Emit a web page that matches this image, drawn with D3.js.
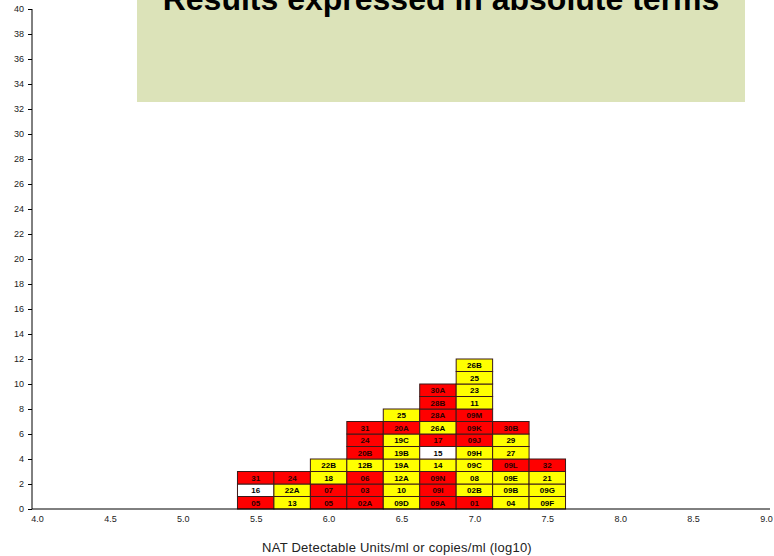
<!DOCTYPE html>
<html><head><meta charset="utf-8">
<script src="https://cdn.jsdelivr.net/npm/d3@7"></script>
<style>body{margin:0;background:#fff}svg{display:block}text{font-family:"Liberation Sans",Arial,sans-serif}</style>
</head><body><svg id="c" width="774" height="556"></svg>
<script>
// Bin centres (log10 units) and the lab codes stacked in each bin, bottom to top
const bins = [5.5, 5.75, 6.0, 6.25, 6.5, 6.75, 7.0, 7.25, 7.5];
const labels = [
  ["05","16","31"],
  ["13","22A","24"],
  ["05","07","18","22B"],
  ["02A","03","06","12B","20B","24","31"],
  ["09D","10","12A","19A","19B","19C","20A","25"],
  ["09A","09I","09N","14","15","17","26A","28A","28B","30A"],
  ["01","02B","08","09C","09H","09J","09K","09M","11","23","25","26B"],
  ["04","09B","09E","09L","27","29","30B"],
  ["09F","09G","21","32"]
];
// r = red, y = yellow, w = white
const kinds = [
  ["r","w","r"],
  ["y","y","r"],
  ["r","r","y","y"],
  ["r","r","r","y","r","r","r"],
  ["y","y","y","y","y","y","r","y"],
  ["r","r","r","y","w","r","y","r","r","r"],
  ["r","y","y","y","y","r","r","r","y","y","y","y"],
  ["y","y","y","r","y","y","r"],
  ["y","y","y","r"]
];
const xTicks = [4.0,4.5,5.0,5.5,6.0,6.5,7.0,7.5,8.0,8.5,9.0];
const yTicks = d3.range(0, 41, 2);
const binWidth = 0.25;
const title = "Results expressed in absolute terms";
const xTitle = "NAT Detectable Units/ml or copies/ml (log10)";

const colour = {r:"#ff0000", y:"#ffff00", w:"#ffffff"};
const svg = d3.select("#c");
const x = d3.scaleLinear().domain([4, 9]).range([37, 766]);
const y = d3.scaleLinear().domain([0, 40]).range([509, 9]);

// title box
svg.append("rect").attr("x",137).attr("y",0).attr("width",608).attr("height",102).attr("fill","#dce3b9");
svg.append("text").attr("x",441).attr("y",10).attr("text-anchor","middle")
  .attr("font-size",32).attr("font-weight","bold").attr("fill","#000").text(title);

// cells
const cells = [];
bins.forEach((b,i)=>labels[i].forEach((l,j)=>cells.push({b, j, l, k:kinds[i][j]})));
const g = svg.append("g");
const cg = g.selectAll("g.cell").data(cells).enter().append("g");
cg.append("rect")
  .attr("x", d=>x(d.b-binWidth/2)).attr("width", d=>x(d.b+binWidth/2)-x(d.b-binWidth/2))
  .attr("y", d=>y(d.j+1)).attr("height", d=>y(d.j)-y(d.j+1))
  .attr("fill", d=>colour[d.k]).attr("stroke","#3a1a1a").attr("stroke-width",1);
cg.append("text")
  .attr("x", d=>x(d.b)).attr("y", d=>(y(d.j)+y(d.j+1))/2+3)
  .attr("text-anchor","middle").attr("font-size",8).attr("font-weight","bold")
  .attr("fill", d=>d.k==="r"?"#2a0000":"#000").text(d=>d.l);

// y axis
const ya = svg.append("g").attr("transform","translate(32,0)")
  .call(d3.axisLeft(y).tickValues(yTicks).tickSize(4).tickPadding(4).tickFormat(d3.format("d")));
ya.select(".domain").attr("stroke","#000").attr("d","M0,9V509");
ya.selectAll(".tick line").attr("stroke","#000");
ya.selectAll(".tick text").attr("font-size",9).attr("fill","#222").attr("font-family","Liberation Sans, Arial, sans-serif");

// x axis
const xa = svg.append("g").attr("transform","translate(0,509)")
  .call(d3.axisBottom(x).tickValues(xTicks).tickSize(0).tickPadding(7).tickFormat(d3.format(".1f")));
xa.select(".domain").attr("stroke","#000").attr("d","M32,0H770");
xa.selectAll(".tick text").attr("font-size",9).attr("fill","#222").attr("font-family","Liberation Sans, Arial, sans-serif");

svg.append("text").attr("x",397).attr("y",552).attr("text-anchor","middle")
  .attr("font-size",13).attr("letter-spacing",0.25).attr("fill","#222").text(xTitle);
</script></body></html>
